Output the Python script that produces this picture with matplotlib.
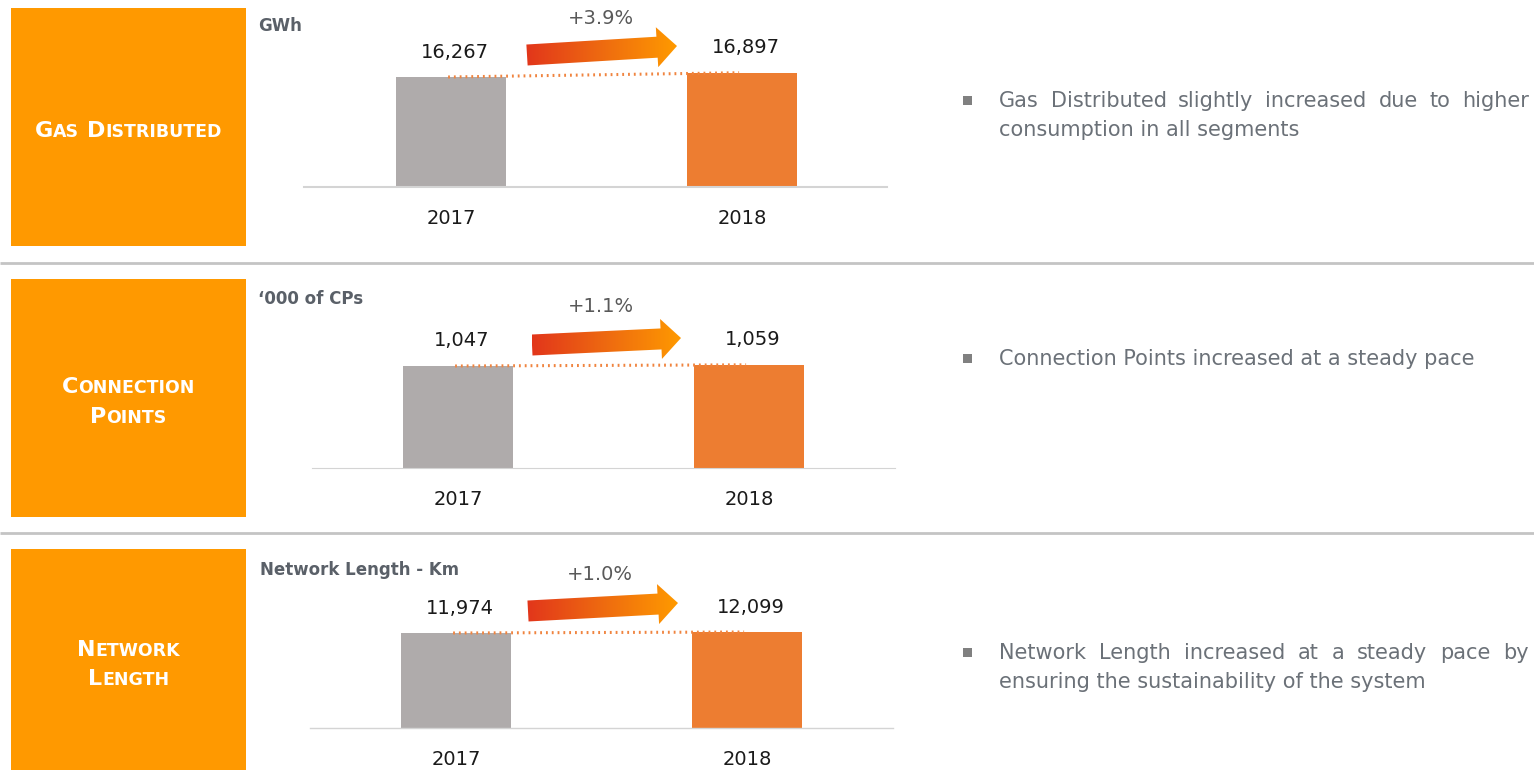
import numpy as np
import matplotlib
matplotlib.use("Agg")
import matplotlib.pyplot as plt
from matplotlib.patches import Polygon, Rectangle
from matplotlib.colors import LinearSegmentedColormap

# ---------------- data ----------------
years = ["2017", "2018"]
gas_distributed_gwh = [16267, 16897]
connection_points_k = [1047, 1059]
network_length_km = [11974, 12099]

panel_titles = [["GAS DISTRIBUTED"], ["CONNECTION", "POINTS"], ["NETWORK", "LENGTH"]]
unit_labels = ["GWh", "\u2018000 of CPs", "Network Length - Km"]
comments = [
    ["Gas Distributed slightly increased due to higher", "consumption in all segments"],
    ["Connection Points increased at a steady pace"],
    ["Network Length increased at a steady pace by", "ensuring the sustainability of the system"],
]
series = [gas_distributed_gwh, connection_points_k, network_length_km]

# ---------------- style / layout ----------------
W, H = 1534, 770
ORANGE_BOX = "#FF9900"
BAR_COLORS = ["#AFABAB", "#ED7D31"]
TEXT_GRAY = "#6B7178"
UNIT_GRAY = "#5A6068"
plt.rcParams["font.family"] = ["DejaVu Sans"]

layout = [
    dict(box=(11, 8, 246, 246), title_base=[137], axx=(304, 887), centers=(451, 742), base=187, h0=110,
         spine_lw=1.5, unit=(258, 26), pct=(601, 18), arrow=((527, 55), (677, 46)), bullet=[107, 136]),
    dict(box=(11, 279, 246, 517), title_base=[393, 423], axx=(312, 895), centers=(458, 749), base=468, h0=102,
         spine_lw=0.8, unit=(258, 299), pct=(601, 307), arrow=((532, 345), (681, 338)), bullet=[365]),
    dict(box=(11, 549, 246, 770), title_base=[656, 685], axx=(310, 893), centers=(456, 747), base=728, h0=95,
         spine_lw=1.0, unit=(260, 570), pct=(600, 575), arrow=((528, 611), (678, 603)), bullet=[659, 688]),
]
separators = [263, 533]

fig = plt.figure(figsize=(W / 100, H / 100), dpi=100)
fig.patch.set_facecolor("white")
ov = fig.add_axes([0, 0, 1, 1], zorder=0)
ov.set_xlim(0, W)
ov.set_ylim(H, 0)
ov.set_autoscale_on(False)
ov.axis("off")
renderer = fig.canvas.get_renderer()

cmap = LinearSegmentedColormap.from_list("arrow", ["#E2361B", "#EE6A10", "#FF9A00"])


def text_width(t):
    bb = t.get_window_extent(renderer=renderer)
    return bb.width


def small_caps(cx, baseline, s, big=16, small=12.5):
    pieces = []
    for wi, word in enumerate(s.split(" ")):
        if wi > 0:
            pieces.append((" ", big))
        pieces.append((word[0], big))
        if len(word) > 1:
            pieces.append((word[1:], small))
    objs = []
    for txt, size in pieces:
        t = ov.text(0, baseline, txt, fontsize=size, fontweight="bold", color="white",
                    ha="left", va="baseline", zorder=5)
        objs.append(t)
    widths = [text_width(t) if p[0] != " " else 0.35 * big * 100 / 72 for t, p in zip(objs, pieces)]
    x = cx - sum(widths) / 2
    for t, w in zip(objs, widths):
        t.set_x(x)
        x += w


def grad_arrow(tail, tip, shaft_hw=10.5, head_hw=20, head_len=20):
    t = np.array(tail, float)
    p = np.array(tip, float)
    d = p - t
    u = d / np.hypot(*d)
    n = np.array([-u[1], u[0]])
    b = p - u * head_len
    pts = [t + n * shaft_hw, b + n * shaft_hw, b + n * head_hw, p,
           b - n * head_hw, b - n * shaft_hw, t - n * shaft_hw]
    poly = Polygon(pts, closed=True, facecolor="none", edgecolor="none")
    ov.add_patch(poly)
    xs = [q[0] for q in pts]
    ys = [q[1] for q in pts]
    grad = np.linspace(0, 1, 256).reshape(1, -1)
    im = ov.imshow(grad, cmap=cmap, extent=(min(xs), max(xs), max(ys), min(ys)),
                   aspect="auto", zorder=3, interpolation="bilinear")
    im.set_clip_path(poly)


def justified(words_line, x0, x1, baseline, size=15):
    words = words_line.split(" ")
    objs = [ov.text(0, baseline, w, fontsize=size, color=TEXT_GRAY, ha="left", va="baseline") for w in words]
    widths = [text_width(o) for o in objs]
    gap = (x1 - x0 - sum(widths)) / (len(words) - 1)
    x = x0
    for o, w in zip(objs, widths):
        o.set_x(x)
        x += w + gap


# separators
for y in separators:
    ov.plot([0, W], [y, y], color="#C4C4C4", lw=2, solid_capstyle="butt", zorder=1)

for i, lay in enumerate(layout):
    vals = series[i]
    x0b, y0b, x1b, y1b = lay["box"]
    ov.add_patch(Rectangle((x0b, y0b), x1b - x0b, y1b - y0b, facecolor=ORANGE_BOX, edgecolor="none", zorder=2))
    for line, bl in zip(panel_titles[i], lay["title_base"]):
        small_caps((x0b + x1b) / 2, bl, line)

    # unit label
    ux, uy = lay["unit"]
    ov.text(ux, uy, unit_labels[i], fontsize=12, fontweight="bold", color=UNIT_GRAY, ha="left", va="center")

    # growth arrow + percentage
    grad_arrow(*lay["arrow"])
    px, py = lay["pct"]
    pct = (vals[1] / vals[0] - 1) * 100
    ov.text(px, py, f"+{pct:.1f}%", fontsize=14, color="#595959", ha="center", va="center")

    # bar axes
    L, R = lay["axx"]
    c0, c1 = lay["centers"]
    base = lay["base"]
    top = y0b
    ax = fig.add_axes([L / W, 1 - base / H, (R - L) / W, (base - top) / H], zorder=2)
    ax.patch.set_alpha(0)
    s = c1 - c0
    ax.set_xlim((L - c0) / s, (R - c0) / s)
    ax.set_ylim(0, vals[0] * (base - top) / lay["h0"])
    xpos = np.arange(len(years))
    ax.bar(xpos, vals, width=110 / s, color=BAR_COLORS, zorder=2)
    ax.plot([-0.01, 0.99], [vals[0], vals[1]], color="#F0843F", lw=2.2,
            linestyle=(0, (0.6, 1.3)), zorder=3)
    for xi, v in zip(xpos, vals):
        ax.annotate(f"{v:,}", (xi, v), xytext=(2.5, 18), textcoords="offset points",
                    ha="center", va="center", fontsize=14, color="#1A1A1A")
    ax.set_xticks(xpos, years)
    ax.tick_params(axis="x", length=0, pad=23, labelsize=14, labelcolor="#1A1A1A")
    for lbl in ax.get_xticklabels():
        lbl.set_va("center")
    ax.set_yticks([])
    for sp in ["left", "right", "top"]:
        ax.spines[sp].set_visible(False)
    ax.spines["bottom"].set_color("#D4D4D4")
    ax.spines["bottom"].set_linewidth(lay["spine_lw"])

    # bullet commentary
    bls = lay["bullet"]
    ov.add_patch(Rectangle((963, bls[0] - 11), 9, 9, facecolor="#808080", edgecolor="none"))
    lines = comments[i]
    for li, (line, bl) in enumerate(zip(lines, bls)):
        if li < len(lines) - 1:
            justified(line, 999, 1529, bl)
        else:
            ov.text(999, bl, line, fontsize=15, color=TEXT_GRAY, ha="left", va="baseline")

fig.savefig("out.png", dpi=100, facecolor="white")
